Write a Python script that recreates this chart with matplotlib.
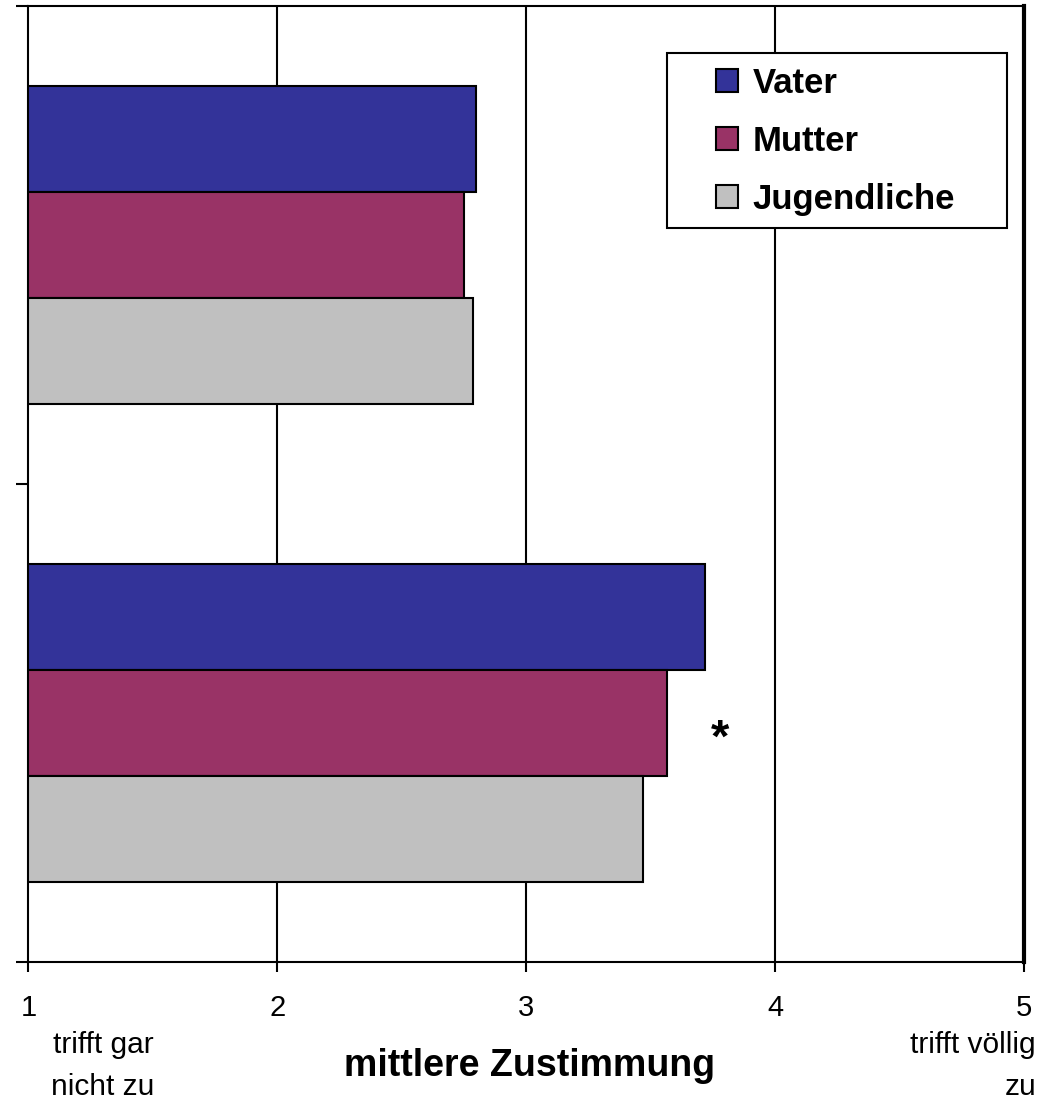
import numpy as np
import matplotlib.pyplot as plt
from matplotlib.patches import Rectangle

plt.rcParams['font.family'] = ['Liberation Sans', 'DejaVu Sans']

# daten
gruppen = [0.5, 1.5]  # zwei Items, oben / unten
serien = ['Vater', 'Mutter', 'Jugendliche']
vater = [2.80, 3.72]
mutter = [2.75, 3.565]
jugendliche = [2.785, 3.47]
farben = ['#333399', '#993366', '#C0C0C0']
xticks = [1, 2, 3, 4, 5]

fig = plt.figure(figsize=(10.47, 11.13), dpi=100)
ax = fig.add_axes([0.0272, 0.1357, 0.9508, 0.8589])

h = 0.222
werte = [vater, mutter, jugendliche]
for k, (name, w, f) in enumerate(zip(serien, werte, farben)):
    y = np.array(gruppen) + (k - 1) * h
    ax.barh(y, np.array(w) - 1, left=1, height=h, color=f,
            edgecolor='black', linewidth=1.5, label=name, zorder=3)

# stern bei Mutter, zweite gruppe
ax.text(3.78, gruppen[1] + 0.036, '*', fontsize=34, fontweight='bold',
        ha='center', va='center')

ax.set_xlim(1, 5)
ax.set_ylim(2, 0)
ax.set_xticks(xticks)
ax.set_xticklabels([str(t) for t in xticks], fontsize=21)
ax.set_yticks([0, 1, 2])
ax.set_yticklabels([])
ax.tick_params(axis='x', length=7, width=1.5, pad=16)
ax.tick_params(axis='y', length=9, width=1.5)
for t in xticks[1:-1]:
    ax.axvline(t, color='black', linewidth=1.5, zorder=1)
for s in ax.spines.values():
    s.set_linewidth(1.5)
ax.spines['right'].set_linewidth(3)

# legendenrahmen extra zeichnen
rahmen = Rectangle((667 / 1047, 1 - 228 / 1113), 340 / 1047, 175 / 1113,
                   transform=fig.transFigure, facecolor='white',
                   edgecolor='black', linewidth=1.5, zorder=4, clip_on=False)
ax.add_patch(rahmen)
leg = ax.legend(loc='upper left', bbox_to_anchor=(716 / 1047, 1 - 67 / 1113),
                bbox_transform=fig.transFigure,
                prop={'weight': 'bold', 'size': 25}, frameon=False,
                handlelength=0.63, handleheight=0.63, handletextpad=0.42,
                labelspacing=0.72, borderpad=0, borderaxespad=0)
leg.set_zorder(5)

fig.text(0.506, 1 - 1066 / 1113, 'mittlere Zustimmung', fontsize=27,
         fontweight='bold', ha='center', va='center')
fig.text(103 / 1047, 1 - 1066 / 1113, 'trifft gar\nnicht zu', fontsize=21.5,
         ha='center', va='center', linespacing=1.6)
fig.text(1036 / 1047, 1 - 1066 / 1113, 'trifft völlig\nzu', fontsize=21.5,
         ha='right', va='center', linespacing=1.6, multialignment='right')

fig.savefig('out.png', dpi=100)
